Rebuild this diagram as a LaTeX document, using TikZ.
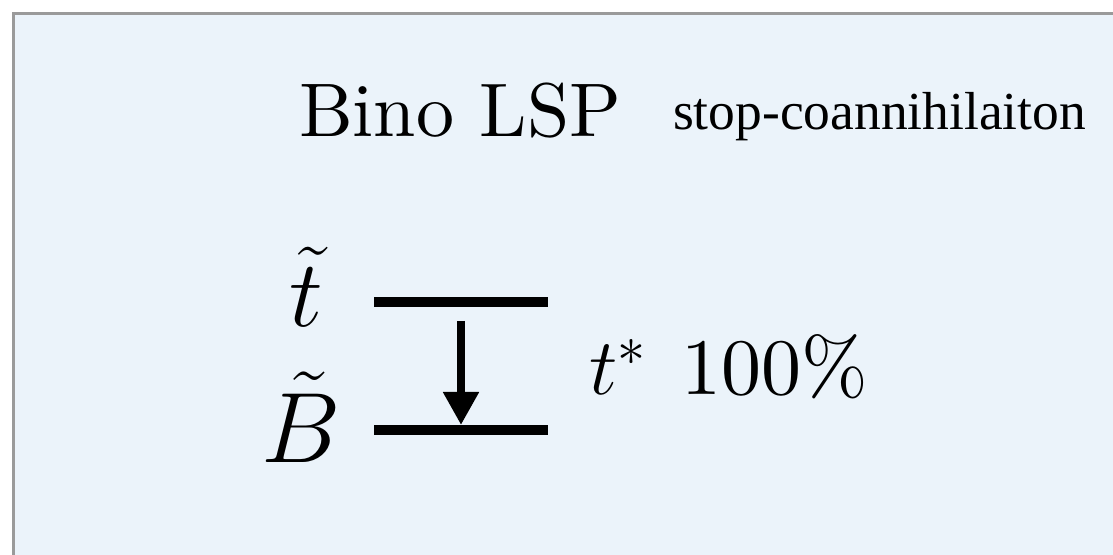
\RequirePackage{fix-cm}
\documentclass[tikz,border=0pt]{standalone}
\usepackage{fontspec}
\newfontfamily\seriffont{Liberation Serif}
\newfontfamily\lmten{lmroman10-regular}[Extension=.otf]
\usetikzlibrary{arrows.meta}
\definecolor{panelbg}{HTML}{EBF3FA}
\definecolor{panelborder}{HTML}{9A9A9A}
\tikzset{
  level/.style={line width=10pt},
  decay/.style={line width=8pt,-{Triangle[length=33pt,width=34pt]}},
  lbl/.style={inner sep=0pt,outer sep=0pt}
}
\begin{document}
\begin{tikzpicture}[x=1pt,y=1pt]
\useasboundingbox (0,0) rectangle (1113,554);
\begin{scope}
\clip (0,0) rectangle (1113,554);
\fill[panelbg] (13.5,-20) rectangle (1130,540.5);
\draw[panelborder,line width=3pt] (13.5,-20) -- (13.5,540.5) -- (1130,540.5);
\end{scope}
\node[lbl,anchor=base west] (title) at (299,417) {\lmten\fontsize{76}{84}\selectfont Bino LSP};
\node[lbl,anchor=base west] (sub) at (673,424) {\seriffont\fontsize{53.5}{60}\selectfont stop-coannihilaiton};
\node[lbl,anchor=base] (stop) at (306,227) {\fontsize{95}{100}\selectfont $\tilde{t}$};
\node[lbl,anchor=base] (bino) at (301,91) {\fontsize{100}{110}\selectfont $\tilde{B}$};
\node[lbl,anchor=base west] (br) at (589,159) {\fontsize{80}{90}\selectfont $t^*$\hspace{36pt}\lmten 100\%};
\coordinate (tl) at (374,252);
\coordinate (tr) at (548,252);
\coordinate (bl) at (374,124);
\coordinate (brr) at (548,124);
\coordinate (as) at (461,233);
\coordinate (ae) at (461,129);
\draw[level] (tl) -- (tr);
\draw[level] (bl) -- (brr);
\draw[decay] (as) -- (ae);
\end{tikzpicture}
\end{document}
